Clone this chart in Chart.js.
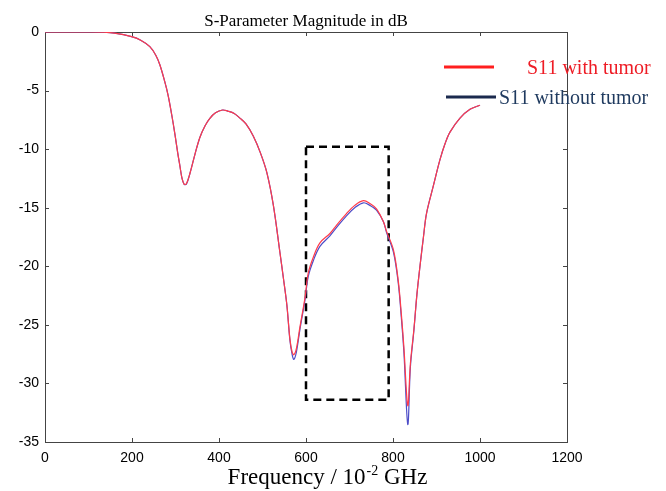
<!DOCTYPE html>
<html>
<head>
<meta charset="utf-8">
<script src="https://cdn.jsdelivr.net/npm/chart.js@4/dist/chart.umd.min.js"></script>
<style>
  body { margin: 0; background: #fff; }
  canvas { display: block; }
</style>
</head>
<body>
<canvas id="sparamCanvas" width="666" height="491"></canvas>
<script>
// S11 magnitude (frequency in 10^-2 GHz)
const freq = [0, 50, 100, 133, 160, 199, 220, 241, 255, 264, 275, 283, 291, 299, 305, 310, 315, 320, 325,
  333, 345, 356, 368, 379, 392, 408, 420, 435, 448, 462, 479, 495, 510, 525, 540, 548, 556, 563, 568,
  572, 578, 586, 598, 605, 617, 632, 655, 670, 693, 712, 732, 747, 762, 778, 785, 801, 812, 819, 825,
  834, 840, 848, 855, 862, 870, 877, 893, 908, 920, 931, 954, 977, 1000];
const s11With = [0, 0, 0, -0.02, -0.1, -0.4, -0.7, -1.25, -2.0, -2.8, -4.2, -5.4, -7.0, -8.8, -10.3, -11.4, -12.5, -13.0, -12.95,
  -12.1, -10.4, -9.0, -8.0, -7.37, -6.9, -6.66, -6.75, -6.95, -7.35, -7.85, -8.9, -10.3, -12.0, -14.8, -18.8, -21.0, -23.3, -26.2, -27.3,
  -27.55, -27.0, -25.2, -22.6, -20.6, -19.2, -18.0, -17.2, -16.5, -15.5, -14.8, -14.4, -14.65, -15.1, -16.2, -17.0, -18.6, -21.2, -24.0, -26.9,
  -31.9, -28.3, -25.4, -22.4, -20.0, -17.5, -15.5, -13.1, -10.9, -9.5, -8.55, -7.35, -6.6, -6.25];
const s11Without = [0, 0, 0, -0.02, -0.1, -0.4, -0.7, -1.25, -2.0, -2.8, -4.2, -5.4, -7.0, -8.8, -10.3, -11.4, -12.5, -13.0, -13.0,
  -12.1, -10.4, -9.0, -8.0, -7.37, -6.9, -6.66, -6.75, -6.95, -7.35, -7.85, -8.9, -10.3, -12.0, -14.8, -18.8, -21.0, -23.3, -26.3, -27.5,
  -27.95, -27.3, -25.4, -22.8, -20.9, -19.5, -18.3, -17.4, -16.7, -15.7, -15.0, -14.58, -14.8, -15.2, -16.2, -17.1, -18.8, -21.4, -24.3, -27.3,
  -33.5, -28.6, -25.5, -22.4, -20.0, -17.5, -15.5, -13.1, -10.9, -9.5, -8.55, -7.35, -6.6, -6.25];

// dashed box around the 600-790 region
const boxX = [600, 790, 790, 600, 600];
const boxY = [-9.8, -9.8, -31.4, -31.4, -9.8];

const xTicks = [0, 200, 400, 600, 800, 1000, 1200];
const yTicks = [0, -5, -10, -15, -20, -25, -30, -35];

const seriesLabels = ['S11 with tumor', 'S11 without tumor'];

function pts(xs, ys) {
  return xs.map((x, i) => ({ x: x, y: ys[i] }));
}

// frame, inward ticks, title, axis label and legend, MATLAB style
const decorPlugin = {
  id: 'decor',
  beforeDatasetsDraw(chart) {
    const ctx = chart.ctx;
    const a = chart.chartArea;
    const xs = chart.scales.x, ys = chart.scales.y;
    ctx.save();
    ctx.strokeStyle = '#444';
    ctx.lineWidth = 1;
    ctx.strokeRect(a.left + 0.5, a.top + 0.5, a.right - a.left, a.bottom - a.top);
    ctx.beginPath();
    xTicks.forEach(v => {
      const px = Math.round(xs.getPixelForValue(v)) + 0.5;
      ctx.moveTo(px, a.bottom); ctx.lineTo(px, a.bottom - 4);
      ctx.moveTo(px, a.top); ctx.lineTo(px, a.top + 4);
    });
    yTicks.forEach(v => {
      const py = Math.round(ys.getPixelForValue(v)) + 0.5;
      ctx.moveTo(a.left, py); ctx.lineTo(a.left + 4, py);
      ctx.moveTo(a.right, py); ctx.lineTo(a.right - 4, py);
    });
    ctx.stroke();
    ctx.restore();
  },
  afterDraw(chart) {
    const ctx = chart.ctx;
    const a = chart.chartArea;
    ctx.save();
    // title
    ctx.fillStyle = '#000';
    ctx.font = '17px "Liberation Serif"';
    ctx.textAlign = 'center';
    ctx.textBaseline = 'alphabetic';
    ctx.fillText('S-Parameter Magnitude in dB', (a.left + a.right) / 2, 26);

    // x axis label with superscript
    const big = '23px "Liberation Serif"', small = '14px "Liberation Serif"';
    ctx.font = big;
    const p1 = 'Frequency / 10', p3 = ' GHz';
    const w1 = ctx.measureText(p1).width, w3 = ctx.measureText(p3).width;
    ctx.font = small;
    const w2 = ctx.measureText('-2').width;
    let x0 = 327 - (w1 + w2 + w3) / 2;
    ctx.textAlign = 'left';
    ctx.font = big;
    ctx.fillText(p1, x0, 484);
    ctx.font = small;
    ctx.fillText('-2', x0 + w1 + 1, 475);
    ctx.font = big;
    ctx.fillText(p3, x0 + w1 + w2 + 1, 484);

    // legend
    ctx.lineWidth = 3;
    ctx.strokeStyle = '#ff1f1f';
    ctx.beginPath(); ctx.moveTo(444, 67); ctx.lineTo(494, 67); ctx.stroke();
    ctx.strokeStyle = '#1b2a4e';
    ctx.beginPath(); ctx.moveTo(446, 97); ctx.lineTo(496, 97); ctx.stroke();
    ctx.font = '20px "Liberation Serif"';
    ctx.fillStyle = '#ee1c25';
    ctx.fillText(seriesLabels[0], 527, 74);
    ctx.fillStyle = '#1f3a5f';
    ctx.fillText(seriesLabels[1], 499, 104);
    ctx.restore();
  }
};

const ctx = document.getElementById('sparamCanvas').getContext('2d');
const sparamChart = new Chart(ctx, {
  type: 'line',
  data: {
    datasets: [{
      label: seriesLabels[0],
      data: pts(freq, s11With),
      borderColor: '#ff3b4a',
      borderWidth: 1.2,
      pointRadius: 0,
      tension: 0.35,
      fill: false
    }, {
      label: seriesLabels[1],
      data: pts(freq, s11Without),
      borderColor: '#4d4dc8',
      borderWidth: 1.2,
      pointRadius: 0,
      tension: 0.35,
      fill: false
    }, {
      label: 'box',
      data: pts(boxX, boxY),
      borderColor: '#000',
      borderWidth: 2.5,
      borderDash: [8, 5],
      pointRadius: 0,
      tension: 0,
      fill: false
    }]
  },
  options: {
    responsive: false,
    animation: false,
    layout: { padding: { top: 32, right: 99, left: 0, bottom: 0 } },
    plugins: {
      legend: { display: false },
      title: { display: false },
      tooltip: { enabled: false }
    },
    scales: {
      x: {
        type: 'linear',
        min: 0, max: 1200,
        afterFit: s => { s.height = 49; },
        afterBuildTicks: s => { s.ticks = xTicks.map(v => ({ value: v })); },
        grid: { display: false, drawTicks: false },
        border: { display: false },
        ticks: {
          autoSkip: false, maxRotation: 0, padding: 8,
          callback: v => String(v),
          color: '#000', font: { family: '"Liberation Sans"', size: 14 }
        }
      },
      y: {
        type: 'linear',
        min: -35, max: 0,
        afterFit: s => { s.width = 45; },
        afterBuildTicks: s => { s.ticks = yTicks.map(v => ({ value: v })); },
        grid: { display: false, drawTicks: false },
        border: { display: false },
        ticks: {
          autoSkip: false, padding: 6,
          callback: v => String(v),
          color: '#000', font: { family: '"Liberation Sans"', size: 14 }
        }
      }
    }
  },
  plugins: [decorPlugin]
});
</script>
</body>
</html>
